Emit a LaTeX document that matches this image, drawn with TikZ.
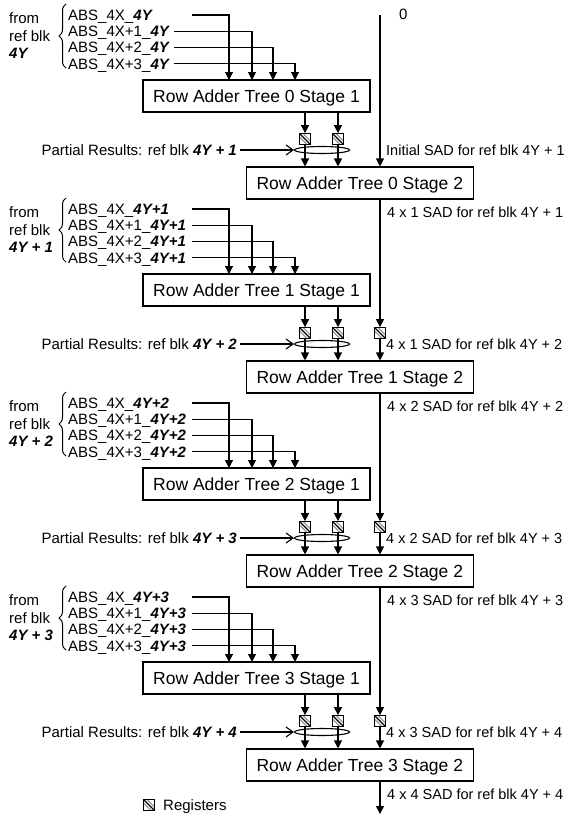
\documentclass[tikz,border=0pt]{standalone}
\usepackage{fontspec}
\setmainfont{Liberation Sans}
\usetikzlibrary{arrows.meta,decorations.pathreplacing,shapes.geometric}
\newcommand{\bi}[1]{\textbf{\textit{#1}}}
\begin{document}
\begin{tikzpicture}[x=1pt,y=-1pt,
  lbl/.style={font=\fontsize{15}{18}\selectfont, inner sep=0pt, text height=10.7pt, text depth=0pt},
  rlbl/.style={font=\fontsize{14.5}{17}\selectfont, inner sep=0pt, text height=10.4pt, text depth=0pt},
  stagebox/.style={draw, line width=1.1pt, font=\fontsize{17.5}{20}\selectfont, minimum height=32pt, inner sep=0pt, text height=12.5pt, text depth=0pt},
  wire/.style={line width=1.1pt},
  arr/.style={wire, -{Triangle[length=8pt,width=8pt]}},
  barb/.style={wire, -{Straight Barb[length=7pt,width=10pt]}},
  ring/.style={draw, ellipse, line width=1.1pt, minimum width=55pt, minimum height=7pt, inner sep=0pt},
  bracestyle/.style={line width=1pt, decorate, decoration={brace, amplitude=7pt}},
  regbox/.style={draw, line width=1.2pt, fill=white, minimum size=10.5pt, inner sep=0pt,
    path picture={
      \draw[line width=1.3pt] (path picture bounding box.north west) -- (path picture bounding box.south east);
      \draw[gray, line width=0.9pt] ([xshift=3.5pt]path picture bounding box.north west) -- ([yshift=3.5pt]path picture bounding box.south east);
      \draw[gray, line width=0.9pt] ([yshift=-3.5pt]path picture bounding box.north west) -- ([xshift=-3.5pt]path picture bounding box.south east);
    }}
]
\useasboundingbox (0,0) rectangle (569,816);

\foreach \k/\lab/\suf/\part/\rlab/\blab in {
 0/{4Y}/{4Y}/{4Y + 1}/{Initial SAD for ref blk 4Y + 1}/{4 x 1 SAD for ref blk 4Y + 1},
 1/{4Y + 1}/{4Y+1}/{4Y + 2}/{4 x 1 SAD for ref blk 4Y + 2}/{4 x 2 SAD for ref blk 4Y + 2},
 2/{4Y + 2}/{4Y+2}/{4Y + 3}/{4 x 2 SAD for ref blk 4Y + 3}/{4 x 3 SAD for ref blk 4Y + 3},
 3/{4Y + 3}/{4Y+3}/{4Y + 4}/{4 x 3 SAD for ref blk 4Y + 4}/{4 x 4 SAD for ref blk 4Y + 4}}{
  \pgfmathsetmacro\dy{194*\k}
  % left labels
  \node[lbl, anchor=west] (from\k) at (9,18+\dy) {from};
  \node[lbl, anchor=west] (ref\k) at (9,36+\dy) {ref blk};
  \node[lbl, anchor=west] (blk\k) at (9,53+\dy) {\bi{\lab}};
  \draw[bracestyle] (66,68+\dy) -- (66,4+\dy);
  % stage boxes
  \node[stagebox, minimum width=227pt] (st1-\k) at (256.5,96+\dy) {Row Adder Tree \k\ Stage 1};
  \node[stagebox, minimum width=226.5pt] (st2-\k) at (359.8,183+\dy) {Row Adder Tree \k\ Stage 2};
  % inputs
  \foreach \i/\col/\txt in {1/229/{ABS\_4X\_}, 2/252/{ABS\_4X+1\_}, 3/273/{ABS\_4X+2\_}, 4/295/{ABS\_4X+3\_}}{
    \pgfmathsetmacro\yy{15+16.3*(\i-1)+\dy}
    \pgfmathsetmacro\sx{ifthenelse(and(\k==0,\i>1),174,192)}
    \node[lbl, anchor=west] (abs\k-\i) at (68,\yy) {\txt\bi{\suf}};
    \coordinate (s\k-\i) at (\sx,\yy);
    \coordinate (c\k-\i) at (\col,80+\dy);
    \draw[arr] (s\k-\i) -| (c\k-\i);
  }
  % registers between stages
  \node[regbox] (ra\k) at (305,139+\dy) {};
  \node[regbox] (rb\k) at (338,139+\dy) {};
  \draw[arr] (st1-\k.south -| ra\k) -- (ra\k.north);
  \draw[arr] (st1-\k.south -| rb\k) -- (rb\k.north);
  \draw[arr] (ra\k.south) -- (st2-\k.north -| ra\k);
  \draw[arr] (rb\k.south) -- (st2-\k.north -| rb\k);
  \node[ring] (e\k) at (322,150+\dy) {};
  % partial results
  \node[lbl, anchor=east] (p\k) at (237,150+\dy) {Partial Results: ref blk \bi{\part}};
  \draw[barb] ([xshift=3pt]p\k.east) -- (e\k.west);
  % right labels
  \node[rlbl, anchor=west] (rl\k) at (386,150+\dy) {\rlab};
  \node[rlbl, anchor=west] (bl\k) at (387,212+\dy) {\blab};
}

% main accumulation line
\coordinate (top) at (380,15);
\node[lbl, anchor=west] (zero) at (399,14) {0};
\draw[arr] (top) -- (st2-0.north -| top);
\foreach \k [evaluate=\k as \km using int(\k-1)] in {1,2,3}{
  \pgfmathsetmacro\dy{194*\k}
  \node[regbox] (rc\k) at (380,139+\dy) {};
  \draw[arr] (st2-\km.south -| rc\k) -- (rc\k.north);
  \draw[arr] (rc\k.south) -- (st2-\k.north -| rc\k);
}
\coordinate (out) at (380,814);
\draw[arr] (st2-3.south -| out) -- (out);

% legend
\node[regbox] (legreg) at (149,805) {};
\node[lbl, anchor=west] (leg) at (163,805) {Registers};
\end{tikzpicture}
\end{document}
